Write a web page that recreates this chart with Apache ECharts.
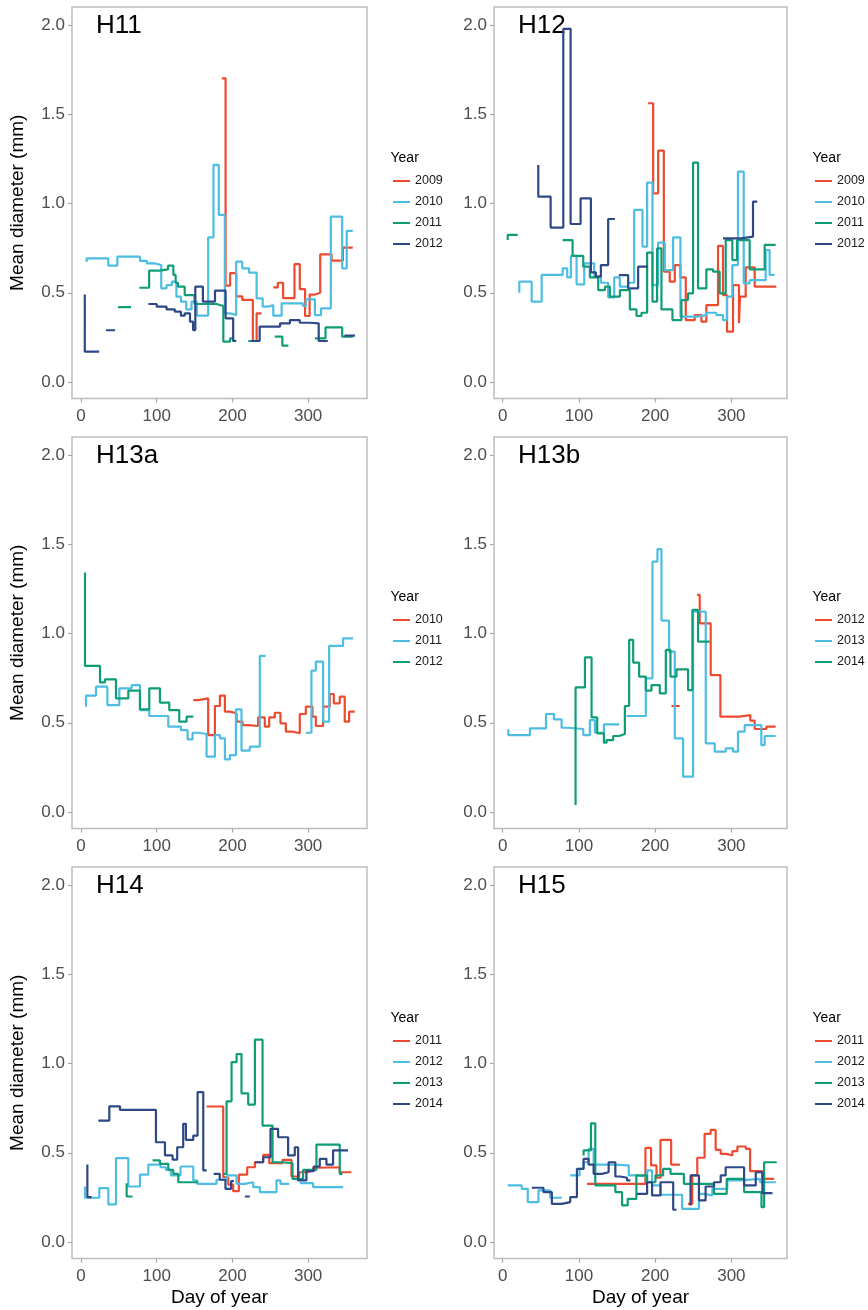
<!DOCTYPE html>
<html><head><meta charset="utf-8">
<script src="https://cdn.jsdelivr.net/npm/echarts@6/dist/echarts.min.js"></script>
<style>html,body{margin:0;padding:0;background:#fff}#c{width:868px;height:1310px}</style>
</head><body><div id="c"></div>
<script>
// ---------- data (day of year, mean diameter mm); null = gap ----------
const xTicks = [0, 100, 200, 300];
const yTicks = [0, 0.5, 1.0, 1.5, 2.0];
const panelNames = ['H11', 'H12', 'H13a', 'H13b', 'H14', 'H15'];
const yearsH11 = ['2009', '2010', '2011', '2012'];
const yearsH12 = ['2009', '2010', '2011', '2012'];
const yearsH13a = ['2010', '2011', '2012'];
const yearsH13b = ['2012', '2013', '2014'];
const yearsH14 = ['2011', '2012', '2013', '2014'];
const yearsH15 = ['2011', '2012', '2013', '2014'];

const H11_2009 = [[186,1.70],[191,0.54],[197,0.61],[205,0.48],[213,0.46],[227,0.23],[232,0.385],[238.5,0.385],null,[254,0.53],[260,0.556],[267,0.47],[282,0.66],[289,0.52],[296,0.37],[302,0.49],[309,0.50],[316,0.715],[331,0.68],[346,0.753],[359,0.753]];
const H11_2010 = [[7.5,0.674],[7.5,0.693],[36,0.652],[48,0.702],[78,0.678],[87,0.665],[97,0.655],[106,0.525],[113,0.543],[120,0.562],[126,0.478],[132,0.45],[139,0.407],[146,0.45],[153,0.372],[168,0.81],[175,1.216],[182,0.936],[190,0.385],[197,0.375],[205,0.674],[213,0.637],[222,0.613],[232,0.469],[240,0.422],[247,0.431],[254,0.372],[265,0.441],[293,0.426],[297,0.463],[309,0.375],[317,0.413],[330,0.926],[345,0.637],[351,0.846],[359,0.846]];
const H11_2011 = [[49,0.42],[66,0.42],null,[77,0.528],[90,0.624],[104,0.631],[115,0.652],[122,0.60],[125,0.556],[128,0.534],[137,0.487],[150,0.437],[179,0.426],[188,0.226],[197,0.245],[201,0.23],[205,0.23],null,[221,0.23],[233,0.23],null,[256,0.254],[266,0.204],[274,0.204],null,[309,0.245],[323,0.306],[345,0.254],[359,0.254]];
const H11_2012 = [[5,0.49],[5,0.17],[24,0.17],null,[33,0.29],[45,0.29],null,[89,0.437],[100,0.422],[113,0.407],[124,0.394],[132,0.372],[137,0.385],[144,0.338],[148,0.291],[151,0.534],[161,0.45],[177,0.512],[191,0.357],[201,0.23],[205,0.23],null,[225,0.23],[236,0.31],[263,0.329],[276,0.347],[289,0.332],[302,0.329],[314,0.23],[326,0.23],null,[348,0.26],[362,0.26]];

const H12_2009 = [[190.8,1.561],[197.4,1.057],[204,1.296],[211.4,0.618],[219.2,0.562],[225.8,0.655],[233.2,0.586],[240.2,0.347],[252,0.375],[260.7,0.338],[267.2,0.431],[282.5,0.762],[289,0.487],[294.3,0.282],[302.2,0.543],[310,0.329],[311.4,0.478],[318.8,0.642],[330.6,0.534],[359,0.534]];
const H12_2010 = [[21.8,0.50],[21.8,0.562],[38,0.45],[51.1,0.60],[78.6,0.637],[84.7,0.586],[89.5,0.706],[96.9,0.547],[107,0.665],[120.1,0.59],[128.8,0.556],[138.4,0.474],[146.3,0.586],[153.7,0.534],[164.6,0.556],[172.5,0.964],[183.4,0.758],[189.5,1.117],[196.5,0.543],[203.9,0.781],[212.7,0.627],[223.6,0.81],[233.2,0.366],[254.1,0.375],[267.2,0.388],[280.3,0.375],[289.1,0.347],[294.3,0.478],[301.3,0.655],[308.7,1.178],[316.2,0.553],[324,0.571],[345,0.739],[350.2,0.60],[356.8,0.60]];
const H12_2011 = [[6.6,0.795],[6.6,0.824],[19.7,0.824],null,[78.6,0.795],[91.7,0.706],[105.7,0.646],[114.4,0.586],[125.3,0.515],[134.1,0.534],[140.6,0.478],[153.7,0.515],[166.8,0.407],[175.5,0.37],[182.1,0.388],[189.5,0.725],[196.5,0.45],[202.6,0.749],[208.3,0.407],[222.7,0.347],[234.5,0.459],[243.2,0.497],[249.8,1.229],[256.3,0.525],[267.2,0.631],[276,0.618],[284.7,0.497],[292.6,0.795],[301.3,0.683],[307.4,0.795],[324,0.631],[343.7,0.768],[358.1,0.768]];
const H12_2012 = [[46.7,1.216],[46.7,1.038],[62.9,0.865],[79.5,1.978],[89.1,0.885],[102.2,1.029],[115.7,0.614],[122.3,0.59],[128.8,0.655],[138.4,0.913],[147.2,0.913],null,[152.4,0.599],[164.6,0.525],[177.7,0.646],[190.8,0.646],null,[289,0.805],[313,0.814],[328.4,1.01],[334,1.01]];

const H13a_2010 = [[148.3,0.627],[154.9,0.637],[168,0.431],[176.9,0.594],[183.5,0.652],[190.1,0.562],[196.7,0.553],[205.5,0.506],[213.4,0.487],[220.9,0.482],[234,0.53],[242.8,0.478],[248.6,0.53],[256,0.556],[263.5,0.497],[270.6,0.45],[280.2,0.441],[289,0.549],[297,0.59],[305.8,0.534],[310.2,0.482],[319.8,0.59],[328.6,0.661],[334,0.609],[341.8,0.646],[348.4,0.506],[354.2,0.562],[361.6,0.562]];
const H13a_2011 = [[6.6,0.59],[6.6,0.652],[19.8,0.702],[34.8,0.599],[50.6,0.693],[66.9,0.711],[77.9,0.571],[90.2,0.538],[115.3,0.478],[132,0.459],[140.8,0.407],[147.4,0.444],[154.9,0.437],[165.9,0.31],[176.9,0.431],[183.5,0.413],[190.1,0.295],[196.7,0.319],[204.6,0.575],[212,0.344],[223,0.366],[236.2,0.874],[243.7,0.874],null,[297,0.444],[304.4,0.792],[310.2,0.842],[319.8,0.506],[327.8,0.93],[346.2,0.973],[359.4,0.973]];
const H13a_2012 = [[5.3,1.341],[5.3,0.818],[25.1,0.726],[31.7,0.743],[46.2,0.637],[62.5,0.68],[77.9,0.575],[90.2,0.693],[104.3,0.613],[116.6,0.571],[129.8,0.506],[139.5,0.534],[148.3,0.534]];

const H13b_2012 = [[221.4,0.594],[232.3,0.594],null,[255,1.216],[258.5,1.057],[272.9,0.767],[285.6,0.534],[310.9,0.543],[324.9,0.512],[330.6,0.465],[345.9,0.478],[358.1,0.478]];
const H13b_2013 = [[7.4,0.463],[7.4,0.431],[35.8,0.469],[56.8,0.549],[67.2,0.519],[77.3,0.472],[86,0.465],[105.7,0.431],[114.4,0.515],[121,0.444],[132.8,0.491],[152.8,0.491],null,[162.4,0.538],[187.8,0.749],[196.5,1.402],[203,1.472],[208.3,1.072],[218.3,0.898],[225.8,0.413],[236.7,0.198],[249.8,1.122],[266.4,0.385],[278.2,0.338],[292.6,0.357],[302.2,0.338],[308.7,0.45],[317.5,0.487],[339.3,0.375],[343.7,0.426],[358.1,0.426]];
const H13b_2014 = [[95.6,0.039],[95.6,0.698],[107.9,0.866],[116.6,0.53],[124,0.441],[132.8,0.388],[136.2,0.403],[145,0.426],[152.8,0.437],[160.3,0.594],[165.9,0.964],[171.2,0.837],[179,0.758],[187.8,0.68],[195.2,0.711],[206.1,0.665],[214,0.908],[220.1,0.758],[228,0.799],[243.2,0.683],[248.9,1.132],[256.3,0.954],[271.6,0.954]];

const H14_2011 = [[165.9,0.759],[187.9,0.363],[194.5,0.322],[201,0.285],[208.5,0.378],[219.5,0.419],[229.7,0.447],[240.6,0.488],[248.6,0.442],[266.2,0.46],[278,0.367],[288.2,0.391],[298.7,0.401],[306.6,0.416],[313.2,0.419],[341.8,0.391],[357.2,0.391]];
const H14_2012 = [[5.3,0.311],[5.3,0.248],[24.2,0.302],[36.1,0.211],[46.2,0.47],[62.5,0.311],[77.9,0.378],[88.9,0.434],[105.1,0.419],[112.2,0.404],[118.8,0.373],[131.5,0.423],[148.3,0.345],[153.5,0.326],[179,0.349],[193,0.373],[205.5,0.326],[216.5,0.335],[227.5,0.308],[236.2,0.28],[258.2,0.345],[263.5,0.326],[275,0.326],null,[289,0.33],[306.6,0.308],[346.2,0.308]];
const H14_2013 = [[60.3,0.33],[60.3,0.255],[68.2,0.255],null,[94.6,0.457],[104.3,0.438],[115.3,0.404],[121.9,0.382],[128.5,0.335],[154.9,0.335],null,[187.9,0.382],[192.3,0.788],[198.9,1.007],[205.5,1.053],[212,0.833],[220.9,0.77],[229.7,1.133],[239.8,0.652],[253,0.447],[266.2,0.442],[279.4,0.354],[293.4,0.404],[311,0.546],[341.8,0.382],[345.4,0.382]];
const H14_2014 = [[8.4,0.434],[8.4,0.252],[14.1,0.252],null,[22.9,0.68],[37.4,0.76],[51.5,0.74],[99,0.559],[110.9,0.485],[121,0.462],[127.1,0.531],[135,0.662],[138.6,0.572],[148.3,0.596],[154,0.839],[161.5,0.401],[166,0.401],null,[175.3,0.382],[183.3,0.349],[190.8,0.298],[198.3,0.341],[201.9,0.341],null,[216.5,0.255],[223,0.255],null,[229.6,0.447],[240.6,0.475],[250.3,0.634],[260.4,0.587],[273.6,0.485],[282.4,0.531],[286.8,0.345],[297.8,0.397],[307.5,0.423],[315.4,0.466],[324.2,0.434],[333,0.513],[352.8,0.513]];

const H15_2011 = [[110.5,0.326],[187.3,0.527],[194.7,0.429],[201.8,0.36],[207,0.572],[221,0.434],[232.5,0.434],null,[243,0.214],[248.7,0.373],[255.3,0.472],[264.9,0.606],[272.8,0.628],[279.4,0.516],[286,0.494],[293.9,0.485],[301.3,0.509],[307.9,0.535],[318.9,0.522],[324.6,0.397],[340.8,0.354],[356.1,0.354]];
const H15_2012 = [[6.6,0.317],[25,0.298],[32.9,0.224],[46.9,0.289],[62.3,0.248],[77.6,0.248],null,[88.6,0.373],[100.9,0.41],[106.1,0.447],[112.7,0.522],[119.3,0.434],[145.6,0.429],[165.4,0.373],[176.3,0.367],[189.5,0.401],[196,0.317],[207,0.265],[235.5,0.186],[257.5,0.27],[264,0.261],[275,0.298],[294.7,0.345],[312.3,0.354],[337.7,0.335],[358.3,0.335]];
const H15_2013 = [[106.1,0.485],[106.1,0.513],[115.8,0.665],[121.5,0.317],[147.8,0.28],[156.6,0.205],[164,0.242],[175.4,0.373],[189.5,0.335],[200.4,0.373],[210.5,0.41],[220.2,0.382],[237.7,0.326],[277.2,0.27],[293.9,0.354],[316.7,0.28],[339.5,0.196],[343,0.447],[359.6,0.447]];
const H15_2014 = [[38.2,0.304],[53.5,0.28],[64.5,0.214],[77.6,0.224],[88.6,0.252],[97.4,0.41],[106.1,0.466],[112.7,0.434],[119.3,0.382],[130.3,0.391],[139,0.447],[147.8,0.367],[154.4,0.36],[163.2,0.345],[167.5,0.345],null,[176.3,0.27],[189.5,0.335],[196,0.261],[207,0.335],[215.8,0.335],[223.7,0.181],[228,0.181],null,[246.5,0.205],[246.5,0.373],[257.5,0.233],[266.2,0.311],[277.2,0.335],[286,0.373],[292.5,0.419],[316.7,0.317],[332,0.391],[340.8,0.274],[353.9,0.274]];

const panelYears = [yearsH11, yearsH12, yearsH13a, yearsH13b, yearsH14, yearsH15];
const panelSeries = [
  [H11_2009, H11_2010, H11_2011, H11_2012],
  [H12_2009, H12_2010, H12_2011, H12_2012],
  [H13a_2010, H13a_2011, H13a_2012],
  [H13b_2012, H13b_2013, H13b_2014],
  [H14_2011, H14_2012, H14_2013, H14_2014],
  [H15_2011, H15_2012, H15_2013, H15_2014]
];

// ---------- layout / style ----------
const COLORS = ['#EE4A30', '#4DBDE1', '#109D76', '#2E4886'];
const FONT = 'Liberation Sans, Arial, Helvetica, sans-serif';
const colL = {left: 72, width: 295, xMin: -11.9, xMax: 377.8, titleX: 96, legendLeft: 392, yearX: 390.5};
const colR = {left: 494, width: 293, xMin: -11.4, xMax: 373, titleX: 518, legendLeft: 814, yearX: 812.5};
const rows = [
  {top: 7, titleY: 26.3, legendTop: 174, yearY: 158.5},
  {top: 437, titleY: 456.3, legendTop: 613, yearY: 597.5},
  {top: 867, titleY: 885.5, legendTop: 1034, yearY: 1018.5}
];
const GRID_H = 391.5;

const option = {
  animation: false,
  backgroundColor: '#ffffff',
  textStyle: {fontFamily: FONT},
  grid: [], xAxis: [], yAxis: [], series: [], legend: [], graphic: []
};

panelNames.forEach((pname, i) => {
  const col = i % 2 === 0 ? colL : colR;
  const row = rows[Math.floor(i / 2)];
  const isLeft = i % 2 === 0;
  const isBottom = i >= 4;
  option.grid.push({
    left: col.left, top: row.top, width: col.width, height: GRID_H,
    show: true, borderColor: '#bdbdbd', borderWidth: 1.5, backgroundColor: '#fff', containLabel: false
  });
  option.xAxis.push({
    type: 'value', gridIndex: i, min: col.xMin, max: col.xMax, position: 'bottom',
    axisLine: {show: false, onZero: false},
    splitLine: {show: false},
    axisTick: {show: true, inside: false, length: 4, customValues: xTicks, lineStyle: {color: '#a8a8a8', width: 1.2}},
    axisLabel: {customValues: xTicks, color: '#4d4d4d', fontSize: 17, margin: 9, fontFamily: FONT},
    name: isBottom ? 'Day of year' : '',
    nameLocation: 'middle', nameGap: 30,
    nameTextStyle: {color: '#000', fontSize: 19, fontFamily: FONT}
  });
  option.yAxis.push({
    type: 'value', gridIndex: i, min: -0.092, max: 2.1, position: 'left',
    axisLine: {show: false, onZero: false},
    splitLine: {show: false},
    axisTick: {show: true, inside: false, length: 4, customValues: yTicks, lineStyle: {color: '#a8a8a8', width: 1.2}},
    axisLabel: {customValues: yTicks, color: '#4d4d4d', fontSize: 17, margin: 7, fontFamily: FONT,
      formatter: v => Number(v).toFixed(1)},
    name: isLeft ? 'Mean diameter (mm)' : '',
    nameLocation: 'middle', nameGap: 45,
    nameTextStyle: {color: '#000', fontSize: 19, fontFamily: FONT}
  });
  const names = [];
  panelSeries[i].forEach((arr, k) => {
    const nm = pname + ' ' + panelYears[i][k];
    names.push(nm);
    option.series.push({
      type: 'line', name: nm, xAxisIndex: i, yAxisIndex: i,
      step: 'end', symbol: 'none', showSymbol: false, connectNulls: false, silent: true,
      color: COLORS[k],
      lineStyle: {color: COLORS[k], width: 2.2},
      data: arr.map(p => p === null ? ['-', '-'] : p)
    });
  });
  option.legend.push({
    orient: 'vertical', left: col.legendLeft, top: row.legendTop, padding: 0,
    itemWidth: 17, itemHeight: 14, itemGap: 7, selectedMode: false,
    data: names, formatter: n => n.split(' ')[1],
    itemStyle: {opacity: 0},
    textStyle: {fontSize: 12.5, color: '#1a1a1a', fontFamily: FONT, lineHeight: 14}
  });
  option.graphic.push({
    type: 'text', x: col.titleX, y: row.titleY, silent: true,
    style: {text: pname, fontSize: 26, fontFamily: FONT, fill: '#000', verticalAlign: 'middle', align: 'left'}
  });
  option.graphic.push({
    type: 'text', x: col.yearX, y: row.yearY, silent: true,
    style: {text: 'Year', fontSize: 14, fontFamily: FONT, fill: '#000', verticalAlign: 'middle', align: 'left'}
  });
});

const chart = echarts.init(document.getElementById('c'), null, {renderer: 'canvas', width: 868, height: 1310});
chart.setOption(option);
</script>
</body></html>
